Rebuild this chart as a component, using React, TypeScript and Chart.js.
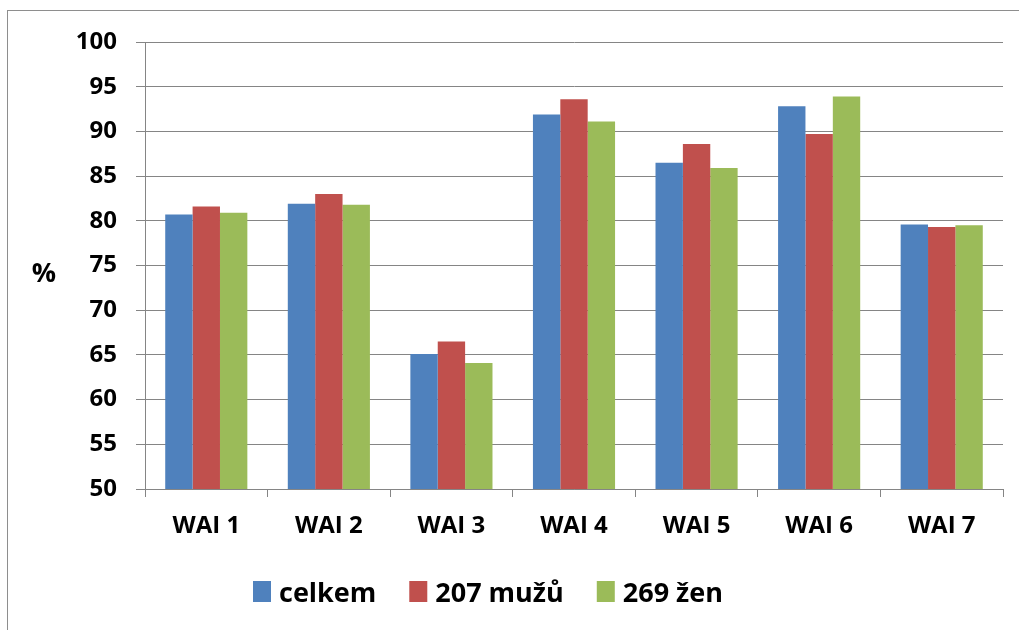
import React, { useEffect, useRef } from "react";
import { Chart, registerables } from "chart.js";

Chart.register(...registerables);

const categories = ["WAI 1", "WAI 2", "WAI 3", "WAI 4", "WAI 5", "WAI 6", "WAI 7"];
const celkem = [80.7, 81.9, 65.1, 91.9, 86.5, 92.8, 79.6];
const muzu = [81.6, 83.0, 66.5, 93.6, 88.6, 89.7, 79.3];
const zen = [80.9, 81.8, 64.1, 91.1, 85.9, 93.9, 79.5];
const seriesNames = ["celkem", "207 mužů", "269 žen"];
const seriesColors = ["#4F81BD", "#C0504D", "#9BBB59"];
const yMin = 50;
const yMax = 100;
const yStep = 5;
const yTitle = "%";

const FONT = "'Open Sans', Lato, sans-serif";
const GRID = "#858585";

const overlayPlugin = {
  id: "overlay",
  afterDraw(chart: any) {
    const ctx = chart.ctx;
    ctx.save();
    ctx.fillStyle = "#000";
    // y title (horizontal)
    ctx.font = `bold 27px ${FONT}`;
    ctx.textAlign = "center";
    ctx.textBaseline = "alphabetic";
    ctx.fillText(yTitle, 44, 282);
    // legend
    ctx.font = `bold 27px ${FONT}`;
    ctx.textAlign = "left";
    ctx.textBaseline = "alphabetic";
    let x = 253;
    const boxTop = 581;
    seriesNames.forEach((name, i) => {
      ctx.fillStyle = seriesColors[i];
      ctx.fillRect(x, boxTop, 18, 21);
      ctx.fillStyle = "#000";
      ctx.fillText(name, x + 26, 602);
      x += 26 + ctx.measureText(name).width + 33;
    });
    ctx.restore();
  },
};

export default function App() {
  const ref = useRef<HTMLCanvasElement>(null);
  useEffect(() => {
    if (!ref.current) return;
    const data = [celkem, muzu, zen];
    const chart = new Chart(ref.current, {
      type: "bar",
      data: {
        labels: categories,
        datasets: seriesNames.map((name, i) => ({
          label: name,
          data: data[i],
          backgroundColor: seriesColors[i],
          borderWidth: 0,
          categoryPercentage: 0.67,
          barPercentage: 1.0,
        })),
      },
      options: {
        animation: false,
        responsive: false,
        maintainAspectRatio: false,
        layout: { padding: { left: 0, top: 42, right: 16, bottom: 81 } },
        plugins: {
          legend: { display: false },
          tooltip: { enabled: false },
        },
        scales: {
          x: {
            afterFit: (s: any) => {
              s.height = 60;
            },
            grid: {
              display: true,
              drawOnChartArea: false,
              drawTicks: true,
              tickLength: 8,
              color: GRID,
              offset: true,
            },
            border: { display: true, color: GRID, width: 1 },
            ticks: {
              color: "#000",
              padding: 15,
              font: { family: FONT, size: 24, weight: "bold" },
            },
          },
          y: {
            min: yMin,
            max: yMax,
            afterFit: (s: any) => {
              s.width = 145;
            },
            grid: {
              color: GRID,
              drawTicks: true,
              tickLength: 9,
            },
            border: { display: true, color: GRID, width: 1 },
            ticks: {
              stepSize: yStep,
              color: "#000",
              padding: 19,
              font: { family: FONT, size: 24, weight: "bold" },
            },
          },
        },
      },
      plugins: [overlayPlugin],
    });
    return () => chart.destroy();
  }, []);

  return (
    <div style={{ position: "fixed", left: 0, top: 0, width: 1019, height: 630, overflow: "hidden", background: "#fff" }}>
      <div
        style={{
          position: "absolute",
          left: 7,
          top: 10,
          width: 1200,
          height: 800,
          border: "1px solid #8e8e8e",
        }}
      />
      <canvas ref={ref} width={1019} height={630} style={{ position: "absolute", left: 0, top: 0 }} />
    </div>
  );
}
